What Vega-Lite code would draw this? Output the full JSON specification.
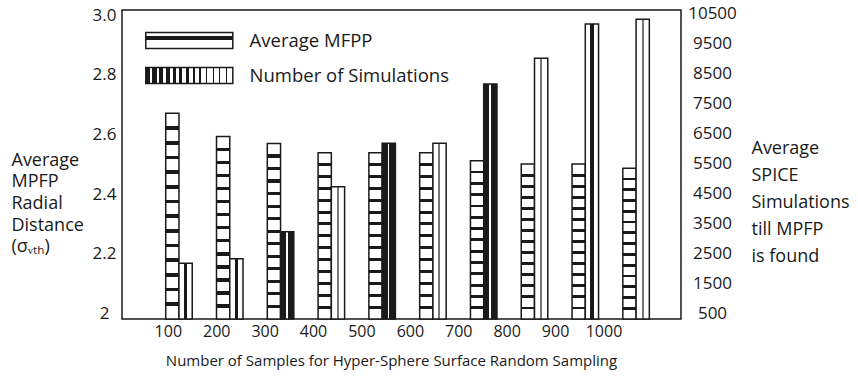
{
  "$schema": "https://vega.github.io/schema/vega-lite/v6.json",
  "width": 559,
  "height": 309,
  "autosize": {"type": "none"},
  "padding": {"left": 122, "top": 10, "right": 177, "bottom": 57},
  "background": "white",
  "config": {
    "font": "Open Sans",
    "view": {"stroke": "#1a1a1a", "strokeWidth": 1.5},
    "axis": {"domain": false, "ticks": false, "grid": false, "labelColor": "#1a1a1a", "titleColor": "#1a1a1a", "titleFontWeight": "normal", "labelFont": "Open Sans", "titleFont": "Open Sans"}
  },
  "data": {
    "values": [
      {"N": 100, "mfpp": 2.671, "sims": 2167},
      {"N": 200, "mfpp": 2.593, "sims": 2320},
      {"N": 300, "mfpp": 2.570, "sims": 3220},
      {"N": 400, "mfpp": 2.539, "sims": 4720},
      {"N": 500, "mfpp": 2.539, "sims": 6167},
      {"N": 600, "mfpp": 2.539, "sims": 6167},
      {"N": 700, "mfpp": 2.512, "sims": 8143},
      {"N": 800, "mfpp": 2.501, "sims": 9000},
      {"N": 900, "mfpp": 2.501, "sims": 10143},
      {"N": 1000, "mfpp": 2.487, "sims": 10300}
    ]
  },
  "layer": [
    {
      "mark": {"type": "bar", "strokeWidth": 1.5, "strokeJoin": "miter"},
      "encoding": {
        "x": {"field": "N", "type": "ordinal", "axis": null,
              "scale": {"paddingInner": 0.478, "paddingOuter": 0.742, "align": 0.58}},
        "xOffset": {"datum": "Average MFPP",
                    "scale": {"domain": ["Average MFPP", "Number of Simulations"], "paddingInner": 0, "paddingOuter": 0}},
        "y": {"field": "mfpp", "type": "quantitative",
              "scale": {"domain": [1.982, 3.017], "nice": false, "zero": false},
              "axis": {
                "orient": "left", "values": [2, 2.2, 2.4, 2.6, 2.8, 3.0],
                "labelExpr": "datum.value == 2 ? '2' : format(datum.value, '.1f')",
                "labelAlign": "center", "labelPadding": 18, "labelFontSize": 17,
                "title": ["Average", "MPFP", "Radial", "Distance", "(σᵥₜₕ)"],
                "titleAngle": 0, "titleAlign": "left", "titleBaseline": "alphabetic",
                "titleX": -111, "titleY": 155, "titleFontSize": 18, "titleLineHeight": 21.7
              }},
        "y2": {"datum": 1.982},
        "stroke": {"datum": "Average MFPP",
                   "scale": {"domain": ["Average MFPP", "Number of Simulations"], "range": ["#1a1a1a", "#1a1a1a"]},
                   "legend": {
                     "orient": "none", "legendX": 57.8, "legendY": 21, "title": null, "padding": 0,
                     "symbolType": "M-5,-0.92H5V0.92H-5Z", "symbolSize": 303, "symbolStrokeWidth": 1.5,
                     "labelFontSize": 18.5, "labelOffset": 50.8, "labelColor": "#1a1a1a", "labelLimit": 400, "rowPadding": 12,
                     "encoding": {"symbols": {
                       "opacity": {"value": 1},
                       "fill": {
                         "condition": {"test": "datum.value === 'Average MFPP'",
                          "value": {"gradient": "linear", "x1": 0, "y1": 0, "x2": 0, "y2": 1, "stops": [
                            {"offset": 0, "color": "white"}, {"offset": 0.2, "color": "white"},
                            {"offset": 0.2, "color": "#1a1a1a"}, {"offset": 0.45, "color": "#1a1a1a"},
                            {"offset": 0.45, "color": "white"}, {"offset": 1, "color": "white"}]}},
                         "value": {"gradient": "linear", "x1": 0, "y1": 0, "x2": 1, "y2": 0, "stops": [
                            {"offset": 0, "color": "#1a1a1a"}, {"offset": 0.0538, "color": "#1a1a1a"}, {"offset": 0.0538, "color": "white"}, {"offset": 0.0769, "color": "white"},
                            {"offset": 0.0769, "color": "#1a1a1a"}, {"offset": 0.1269, "color": "#1a1a1a"}, {"offset": 0.1269, "color": "white"}, {"offset": 0.1538, "color": "white"},
                            {"offset": 0.1538, "color": "#1a1a1a"}, {"offset": 0.2, "color": "#1a1a1a"}, {"offset": 0.2, "color": "white"}, {"offset": 0.2308, "color": "white"},
                            {"offset": 0.2308, "color": "#1a1a1a"}, {"offset": 0.2731, "color": "#1a1a1a"}, {"offset": 0.2731, "color": "white"}, {"offset": 0.3077, "color": "white"},
                            {"offset": 0.3077, "color": "#1a1a1a"}, {"offset": 0.3462, "color": "#1a1a1a"}, {"offset": 0.3462, "color": "white"}, {"offset": 0.3846, "color": "white"},
                            {"offset": 0.3846, "color": "#1a1a1a"}, {"offset": 0.4192, "color": "#1a1a1a"}, {"offset": 0.4192, "color": "white"}, {"offset": 0.4615, "color": "white"},
                            {"offset": 0.4615, "color": "#1a1a1a"}, {"offset": 0.4923, "color": "#1a1a1a"}, {"offset": 0.4923, "color": "white"}, {"offset": 0.5385, "color": "white"},
                            {"offset": 0.5385, "color": "#1a1a1a"}, {"offset": 0.5616, "color": "#1a1a1a"}, {"offset": 0.5616, "color": "white"}, {"offset": 0.6154, "color": "white"},
                            {"offset": 0.6154, "color": "#1a1a1a"}, {"offset": 0.6346, "color": "#1a1a1a"}, {"offset": 0.6346, "color": "white"}, {"offset": 0.6923, "color": "white"},
                            {"offset": 0.6923, "color": "#1a1a1a"}, {"offset": 0.7077, "color": "#1a1a1a"}, {"offset": 0.7077, "color": "white"}, {"offset": 0.7692, "color": "white"},
                            {"offset": 0.7692, "color": "#1a1a1a"}, {"offset": 0.7807, "color": "#1a1a1a"}, {"offset": 0.7807, "color": "white"}, {"offset": 0.8462, "color": "white"},
                            {"offset": 0.8462, "color": "#1a1a1a"}, {"offset": 0.8554, "color": "#1a1a1a"}, {"offset": 0.8554, "color": "white"}, {"offset": 0.9231, "color": "white"},
                            {"offset": 0.9231, "color": "#1a1a1a"}, {"offset": 0.9308, "color": "#1a1a1a"}, {"offset": 0.9308, "color": "white"}, {"offset": 1, "color": "white"}]}
                       }
                     }}
                   }},
        "fill": {"value": {"gradient": "linear", "x1": 0, "y1": 0, "x2": 0, "y2": 1, "stops": [
          {"offset": 0, "color": "white"},
          {"offset": 0.0624, "color": "white"}, {"offset": 0.0624, "color": "#1a1a1a"}, {"offset": 0.0804, "color": "#1a1a1a"}, {"offset": 0.0804, "color": "white"},
          {"offset": 0.1339, "color": "white"}, {"offset": 0.1339, "color": "#1a1a1a"}, {"offset": 0.1519, "color": "#1a1a1a"}, {"offset": 0.1519, "color": "white"},
          {"offset": 0.2053, "color": "white"}, {"offset": 0.2053, "color": "#1a1a1a"}, {"offset": 0.2233, "color": "#1a1a1a"}, {"offset": 0.2233, "color": "white"},
          {"offset": 0.2767, "color": "white"}, {"offset": 0.2767, "color": "#1a1a1a"}, {"offset": 0.2947, "color": "#1a1a1a"}, {"offset": 0.2947, "color": "white"},
          {"offset": 0.3481, "color": "white"}, {"offset": 0.3481, "color": "#1a1a1a"}, {"offset": 0.3661, "color": "#1a1a1a"}, {"offset": 0.3661, "color": "white"},
          {"offset": 0.4196, "color": "white"}, {"offset": 0.4196, "color": "#1a1a1a"}, {"offset": 0.4376, "color": "#1a1a1a"}, {"offset": 0.4376, "color": "white"},
          {"offset": 0.491, "color": "white"}, {"offset": 0.491, "color": "#1a1a1a"}, {"offset": 0.509, "color": "#1a1a1a"}, {"offset": 0.509, "color": "white"},
          {"offset": 0.5624, "color": "white"}, {"offset": 0.5624, "color": "#1a1a1a"}, {"offset": 0.5804, "color": "#1a1a1a"}, {"offset": 0.5804, "color": "white"},
          {"offset": 0.6339, "color": "white"}, {"offset": 0.6339, "color": "#1a1a1a"}, {"offset": 0.6519, "color": "#1a1a1a"}, {"offset": 0.6519, "color": "white"},
          {"offset": 0.7053, "color": "white"}, {"offset": 0.7053, "color": "#1a1a1a"}, {"offset": 0.7233, "color": "#1a1a1a"}, {"offset": 0.7233, "color": "white"},
          {"offset": 0.7767, "color": "white"}, {"offset": 0.7767, "color": "#1a1a1a"}, {"offset": 0.7947, "color": "#1a1a1a"}, {"offset": 0.7947, "color": "white"},
          {"offset": 0.8481, "color": "white"}, {"offset": 0.8481, "color": "#1a1a1a"}, {"offset": 0.8661, "color": "#1a1a1a"}, {"offset": 0.8661, "color": "white"},
          {"offset": 0.9196, "color": "white"}, {"offset": 0.9196, "color": "#1a1a1a"}, {"offset": 0.9376, "color": "#1a1a1a"}, {"offset": 0.9376, "color": "white"},
          {"offset": 1, "color": "white"}]}}
      }
    },
    {
      "mark": {"type": "bar", "strokeWidth": 1.5, "strokeJoin": "miter"},
      "encoding": {
        "x": {"field": "N", "type": "ordinal", "axis": null,
              "scale": {"paddingInner": 0.478, "paddingOuter": 0.742, "align": 0.58}},
        "xOffset": {"datum": "Number of Simulations",
                    "scale": {"domain": ["Average MFPP", "Number of Simulations"], "paddingInner": 0, "paddingOuter": 0}},
        "y": {"field": "sims", "type": "quantitative",
              "scale": {"domain": [310, 10610], "nice": false, "zero": false},
              "axis": {
                "orient": "right", "values": [500, 1500, 2500, 3500, 4500, 5500, 6500, 7500, 8500, 9500, 10500],
                "format": "d", "labelAlign": "center", "labelPadding": 31, "labelFontSize": 17,
                "title": ["Average", "SPICE", "Simulations", "till MPFP", "is found"],
                "titleAngle": 0, "titleAlign": "left", "titleBaseline": "alphabetic",
                "titleX": 70, "titleY": 143, "titleFontSize": 18, "titleLineHeight": 27
              }},
        "y2": {"datum": 310},
        "stroke": {"datum": "Number of Simulations"},
        "fill": {
          "condition": [
            {"test": "datum.N === 300 || datum.N === 500 || datum.N === 700",
             "value": {"gradient": "linear", "x1": 0, "y1": 0, "x2": 1, "y2": 0, "stops": [
               {"offset": 0, "color": "#1a1a1a"}, {"offset": 0.42, "color": "#1a1a1a"},
               {"offset": 0.42, "color": "white"}, {"offset": 0.55, "color": "white"},
               {"offset": 0.55, "color": "#1a1a1a"}, {"offset": 1, "color": "#1a1a1a"}]}},
            {"test": "datum.N === 400 || datum.N === 600 || datum.N === 800 || datum.N === 1000",
             "value": {"gradient": "linear", "x1": 0, "y1": 0, "x2": 1, "y2": 0, "stops": [
               {"offset": 0, "color": "white"}, {"offset": 0.42, "color": "white"},
               {"offset": 0.42, "color": "#777777"}, {"offset": 0.56, "color": "#777777"},
               {"offset": 0.56, "color": "white"}, {"offset": 1, "color": "white"}]}}
          ],
          "value": {"gradient": "linear", "x1": 0, "y1": 0, "x2": 1, "y2": 0, "stops": [
            {"offset": 0, "color": "white"}, {"offset": 0.36, "color": "white"},
            {"offset": 0.36, "color": "#1a1a1a"}, {"offset": 0.64, "color": "#1a1a1a"},
            {"offset": 0.64, "color": "white"}, {"offset": 1, "color": "white"}]}
        }
      }
    },
    {
      "mark": {"type": "rule", "opacity": 0},
      "encoding": {
        "x": {"field": "N", "type": "ordinal",
              "scale": {"paddingInner": 0, "paddingOuter": 0.7735, "align": 0.295},
              "axis": {
                "orient": "bottom", "labelAngle": 0, "labelFontSize": 16, "labelPadding": 4,
                "title": "Number of Samples for Hyper-Sphere Surface Random Sampling",
                "titleFontSize": 15, "titleX": 269, "titleY": 46, "titleBaseline": "alphabetic", "titleAlign": "center"
              }}
      }
    }
  ],
  "resolve": {"scale": {"x": "independent", "y": "independent"}, "axis": {"x": "independent", "y": "independent"}}
}
